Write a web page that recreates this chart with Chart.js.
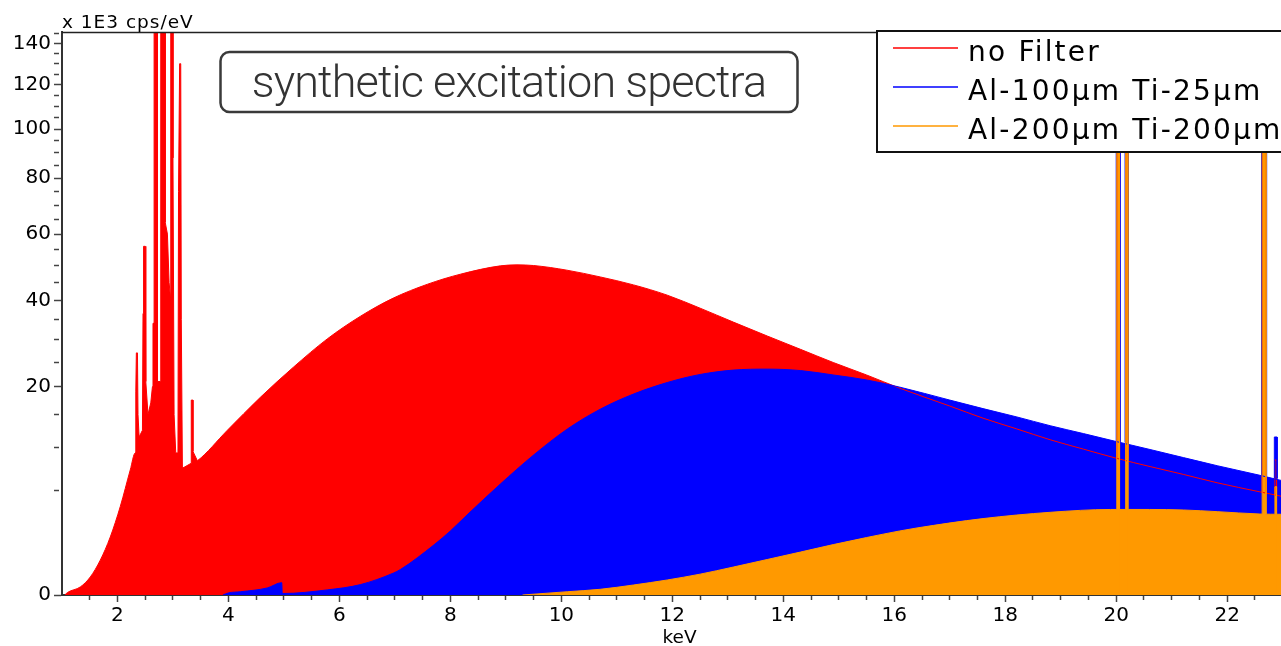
<!DOCTYPE html>
<html lang="en">
<head>
<meta charset="utf-8">
<title>synthetic excitation spectra</title>
<script src="https://cdn.jsdelivr.net/npm/chart.js@4.4.1/dist/chart.umd.min.js"></script>
<style>
  html, body { margin: 0; padding: 0; background: #fff; }
  #spectrum { display: block; }
</style>
</head>
<body>
<canvas id="spectrum" width="1281" height="646"></canvas>
<script>
// values: [keV, 1E3 cps/eV]
// smooth bremsstrahlung part of each spectrum
const noFilter = [
  [1.05, 0], [1.10, 0.003], [1.33, 0.03], [1.51, 0.15], [1.69, 0.56], [1.87, 1.55], [2.05, 3.6], [2.23, 7.2],
  [2.32, 9.3], [3.17, 7.4], [3.44, 8.3], [3.98, 12.5], [4.58, 18.05], [5.17, 23.9], [5.78, 30.2], [6.38, 35.8],
  [6.97, 40.6], [7.59, 44.5], [8.18, 47.4], [8.90, 49.9], [9.20, 50.2], [9.50, 50.0], [10.10, 48.6],
  [10.70, 46.6], [11.30, 44.3], [11.91, 41.4], [12.50, 37.9], [13.10, 34.3], [13.71, 30.9], [14.31, 27.8],
  [14.90, 24.9], [15.50, 22.3], [16.10, 19.7], [17.00, 16.45], [17.60, 14.4], [18.21, 12.7], [18.81, 11.1],
  [19.41, 9.8], [20.01, 8.6], [20.61, 7.6], [21.21, 6.7], [21.82, 5.8], [22.59, 4.9], [22.97, 4.5]
];
const al100Ti25 = [
  [3.90, 0], [4.00, 0.002], [4.22, 0.005], [4.70, 0.023], [4.96, 0.07], [4.97, 0.001], [5.78, 0.012],
  [6.38, 0.05], [6.97, 0.22], [7.10, 0.30], [7.70, 1.15], [8.00, 1.89], [8.30, 2.95], [8.90, 5.67],
  [9.50, 9.03], [10.11, 12.7], [10.70, 15.9], [11.30, 18.6], [11.91, 20.8], [12.50, 22.4], [13.10, 23.3],
  [13.71, 23.5], [14.31, 23.2], [14.90, 22.3], [15.50, 21.3], [16.10, 19.9], [17.00, 17.5], [17.60, 16.0],
  [18.21, 14.6], [18.81, 13.2], [19.41, 12.0], [20.00, 10.85], [20.61, 9.75], [21.21, 8.7], [21.82, 7.7],
  [22.59, 6.6], [22.97, 6.05]
];
const al200Ti200 = [
  [9.30, 0], [10.11, 0.005], [10.70, 0.015], [11.30, 0.046], [11.91, 0.104], [12.50, 0.20], [13.10, 0.36],
  [13.71, 0.58], [14.31, 0.85], [14.90, 1.17], [15.50, 1.52], [16.10, 1.89], [16.41, 2.07], [17.60, 2.69],
  [18.81, 3.15], [19.90, 3.37], [20.60, 3.37], [21.21, 3.33], [21.82, 3.2], [22.59, 3.02], [22.97, 3.0]
];

// line peaks sitting on the continuum (null = gap between groups)
const noFilterPeaks = [
  [2.32, 9.3], [2.33, 19], [2.34, 27], [2.36, 27], [2.37, 15], [2.39, 11.5], [2.45, 12.5], [2.46, 36.5],
  [2.47, 56], [2.50, 56], [2.51, 21], [2.55, 15], [2.60, 17], [2.63, 20], [2.64, 34], [2.66, 34],
  [2.66, 300], [2.72, 300], [2.72, 21], [2.78, 21], [2.78, 300], [2.86, 300], [2.86, 64], [2.90, 60],
  [2.93, 45], [2.96, 40], [2.96, 300], [3.00, 300], [3.00, 88], [3.02, 15], [3.05, 9.3], [3.09, 9.3],
  [3.10, 75], [3.12, 130], [3.14, 130], [3.15, 35], [3.17, 7.4], [3.33, 8.0], [3.33, 17.5], [3.36, 17.5],
  [3.36, 9.5], [3.44, 8.3], [10.0, null],
  [20.01, 8.6], [20.01, 300], [20.06, 300], [20.06, 8.6], [20.10, null],
  [20.17, 8.5], [20.17, 250], [20.21, 250], [20.21, 8.45], [22.0, null],
  [22.63, 4.85], [22.63, 250], [22.70, 250], [22.70, 4.8], [22.80, null],
  [22.86, 4.6], [22.86, 8.4], [22.89, 8.4], [22.89, 4.55]
];
const al100Ti25Peaks = [
  [20.00, 10.85], [20.00, 300], [20.07, 300], [20.07, 10.8], [20.10, null],
  [20.16, 10.7], [20.16, 250], [20.22, 250], [20.22, 10.6], [22.0, null],
  [22.62, 6.55], [22.62, 250], [22.71, 250], [22.71, 6.45], [22.80, null],
  [22.85, 6.3], [22.85, 11.5], [22.90, 11.5], [22.90, 6.25]
];
const al200Ti200Peaks = [
  [20.01, 3.4], [20.01, 300], [20.06, 300], [20.06, 3.4], [20.10, null],
  [20.17, 3.4], [20.17, 250], [20.21, 250], [20.21, 3.4], [22.0, null],
  [22.63, 3.0], [22.63, 250], [22.70, 250], [22.70, 3.0], [22.80, null],
  [22.86, 3.0], [22.86, 5.4], [22.89, 5.4], [22.89, 3.0]
];

const seriesLabels = ['no Filter', 'Al-100µm Ti-25µm', 'Al-200µm Ti-200µm'];
const seriesColors = ['#ff0000', '#0000ff', '#ff9900'];

const keVTicks = [1.5, 2, 2.5, 3, 3.5, 4, 4.5, 5, 5.5, 6, 6.5, 7, 7.5, 8, 8.5, 9, 9.5, 10, 10.5, 11, 11.5,
  12, 12.5, 13, 13.5, 14, 14.5, 15, 15.5, 16, 16.5, 17, 17.5, 18, 18.5, 19, 19.5, 20, 20.5, 21, 21.5, 22, 22.5];
const keVLabels = [2, 4, 6, 8, 10, 12, 14, 16, 18, 20, 22];
const cpsTicks = [0, 5, 10, 15, 20, 25, 30, 35, 40, 45, 50, 55, 60, 65, 70, 75, 80, 85, 90, 95, 100,
  105, 110, 115, 120, 125, 130, 135, 140, 145];
const cpsLabels = [0, 20, 40, 60, 80, 100, 120, 140];

// square-root y axis
class SqrtScale extends Chart.LinearScale {
  getPixelForValue(value) {
    if (value === null || value === undefined) return NaN;
    const lo = Math.sqrt(this.min), hi = Math.sqrt(this.max);
    return this.getPixelForDecimal((Math.sqrt(Math.max(0, value)) - lo) / (hi - lo));
  }
  getValueForPixel(pixel) {
    const lo = Math.sqrt(this.min), hi = Math.sqrt(this.max);
    const s = lo + this.getDecimalForPixel(pixel) * (hi - lo);
    return s * s;
  }
}
SqrtScale.id = 'sqrt';
SqrtScale.defaults = Chart.LinearScale.defaults;
Chart.register(SqrtScale);

// unit text, title box, legend box, axis name
const decorations = {
  id: 'decorations',
  afterDraw(chart) {
    const {ctx, chartArea: a} = chart;
    ctx.save();

    ctx.strokeStyle = '#222';
    ctx.lineWidth = 1.5;
    ctx.beginPath();
    ctx.moveTo(a.left, a.top + 0.5);
    ctx.lineTo(a.right, a.top + 0.5);
    ctx.stroke();

    ctx.fillStyle = '#000';
    ctx.font = '18.5px "DejaVu Sans"';
    ctx.letterSpacing = '1px';
    ctx.textAlign = 'left';
    ctx.textBaseline = 'alphabetic';
    ctx.fillText('x 1E3 cps/eV', a.left, 28);

    ctx.letterSpacing = '0px';
    ctx.textAlign = 'center';
    ctx.fillText('keV', (a.left + a.right) / 2 + 8, 643);

    // title box
    ctx.strokeStyle = '#3a3a3a';
    ctx.lineWidth = 2.5;
    ctx.beginPath();
    ctx.roundRect(220.5, 52, 577, 60, 9);
    ctx.stroke();
    ctx.fillStyle = '#333';
    ctx.font = '300 45px Roboto';
    ctx.letterSpacing = '-0.9px';
    ctx.fillText('synthetic excitation spectra', 509, 97);

    // legend
    const lx = 877, ly = 31;
    ctx.fillStyle = '#fff';
    ctx.fillRect(lx, ly, 420, 121);
    ctx.strokeStyle = '#111';
    ctx.lineWidth = 2;
    ctx.strokeRect(lx, ly, 420, 121);
    ctx.font = '28px "DejaVu Sans"';
    ctx.letterSpacing = '2.2px';
    ctx.textAlign = 'left';
    seriesLabels.forEach((label, i) => {
      const y = ly + 17 + i * 39;
      ctx.strokeStyle = seriesColors[i];
      ctx.lineWidth = 1.5;
      ctx.beginPath();
      ctx.moveTo(lx + 16, y);
      ctx.lineTo(lx + 81, y);
      ctx.stroke();
      ctx.fillStyle = '#000';
      ctx.fillText(label, lx + 91, y + 12.5);
    });
    ctx.restore();
  }
};

// continuum and peaks of each series; lower order is painted later
const continua = [noFilter, al100Ti25, al200Ti200];
const peaks = [noFilterPeaks, al100Ti25Peaks, al200Ti200Peaks];
const datasets = [];
continua.forEach((data, i) => {
  const common = {
    borderColor: seriesColors[i],
    backgroundColor: seriesColors[i],
    borderWidth: 1,
    pointRadius: 0,
    fill: 'origin'
  };
  datasets.push(Object.assign({label: seriesLabels[i], data: data,
    cubicInterpolationMode: 'monotone', order: 6 - 2 * i}, common));
  datasets.push(Object.assign({label: seriesLabels[i] + ' peaks', data: peaks[i],
    tension: 0, order: 5 - 2 * i}, common));
});

const tickFont = {family: 'DejaVu Sans', size: 20};

new Chart(document.getElementById('spectrum'), {
  type: 'line',
  data: {datasets: datasets},
  options: {
    responsive: false,
    devicePixelRatio: 1,
    animation: false,
    events: [],
    layout: {padding: {top: 32, right: 0, bottom: 0, left: 0}},
    plugins: {
      legend: {display: false},
      tooltip: {enabled: false},
      filler: {drawTime: 'beforeDatasetsDraw'}  // all areas first, outlines on top
    },
    scales: {
      x: {
        type: 'linear',
        min: 1.0,
        max: 22.97,
        afterBuildTicks: s => { s.ticks = keVTicks.map(v => ({value: v})); },
        afterFit: s => { s.height = 51; },
        border: {display: true, color: '#333', width: 2},
        grid: {
          drawOnChartArea: false,
          tickLength: 7,
          tickColor: '#444',
          tickWidth: 1.5,
          tickBorderDash: c => keVLabels.includes(c.tick.value) ? [] : [4, 20]
        },
        ticks: {
          autoSkip: false,
          maxRotation: 0,
          padding: 2,
          color: '#000',
          font: tickFont,
          callback: v => keVLabels.includes(v) ? String(v) : ''
        }
      },
      y: {
        type: 'sqrt',
        position: 'left',
        min: 0,
        max: 146,
        bounds: 'data',
        afterBuildTicks: s => { s.ticks = cpsTicks.map(v => ({value: v})); },
        afterFit: s => { s.width = 62; },
        border: {display: true, color: '#333', width: 2},
        grid: {
          drawOnChartArea: false,
          tickLength: 8,
          tickColor: '#444',
          tickWidth: 1.5,
          tickBorderDash: c => cpsLabels.includes(c.tick.value) ? [] : [5, 20]
        },
        ticks: {
          autoSkip: false,
          padding: 3,
          color: '#000',
          font: tickFont,
          callback: v => cpsLabels.includes(v) ? String(v) : ''
        }
      }
    }
  },
  plugins: [decorations]
});
</script>
</body>
</html>
